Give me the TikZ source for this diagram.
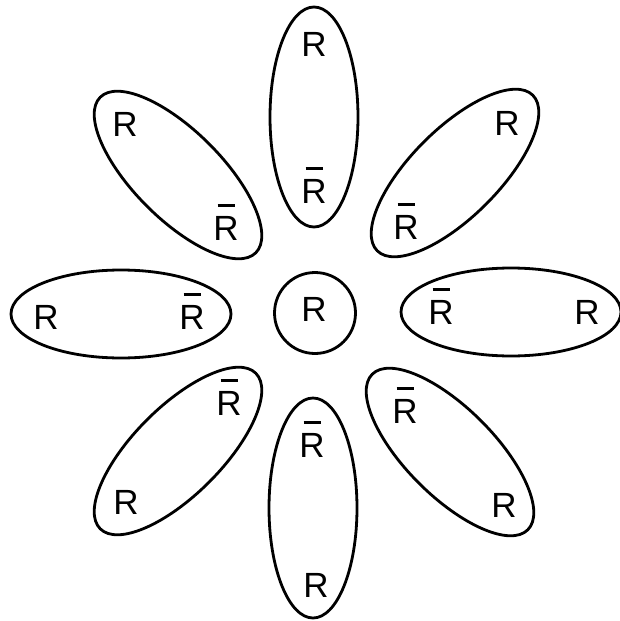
\documentclass[tikz,border=0pt]{standalone}
\usepackage{fontspec}
\setmainfont{Liberation Sans}
\usetikzlibrary{shapes.geometric}
\newcommand{\Rb}{\ooalign{R\cr\hidewidth\smash{\rule[33.5pt]{17pt}{3pt}}\hidewidth\cr}}
\begin{document}
\begin{tikzpicture}[x=1pt,y=-1pt,
  petal/.style={draw, line width=2.8pt, ellipse, inner sep=0pt, minimum width=88pt, minimum height=220pt},
  core/.style={draw, line width=2.8pt, circle, inner sep=0pt, minimum size=81pt},
  lab/.style={inner sep=0pt, font=\fontsize{35}{40}\selectfont}]
\useasboundingbox (0,0) rectangle (619,621);
% petals
\node[petal] (pt) at (314,117) {};
\node[petal, rotate=-45] (ptr) at (455,173) {};
\node[petal, rotate=90] (pr) at (511,312) {};
\node[petal, rotate=45] (pbr) at (450,452) {};
\node[petal] (pb) at (313,508) {};
\node[petal, rotate=-45] (pbl) at (178,451) {};
\node[petal, rotate=90] (pl) at (121,314) {};
\node[petal, rotate=45] (ptl) at (178,175) {};
\node[core] (c) at (315,313) {};
% labels
\node[lab] (lc) at (314,309) {R};
\node[lab] (t1) at (314,44) {R};
\node[lab] (t2) at (314,191) {\Rb};
\node[lab] (tr1) at (507,123) {R};
\node[lab] (tr2) at (406,227) {\Rb};
\node[lab] (r1) at (441,312) {\Rb};
\node[lab] (r2) at (587,312) {R};
\node[lab] (br1) at (405,411) {\Rb};
\node[lab] (br2) at (504,505) {R};
\node[lab] (b1) at (312,445) {\Rb};
\node[lab] (b2) at (316,585) {R};
\node[lab] (bl1) at (229,403) {\Rb};
\node[lab] (bl2) at (126,502) {R};
\node[lab] (l1) at (46,317) {R};
\node[lab] (l2) at (192,317) {\Rb};
\node[lab] (tl1) at (125,124) {R};
\node[lab] (tl2) at (226,228) {\Rb};
\end{tikzpicture}
\end{document}
